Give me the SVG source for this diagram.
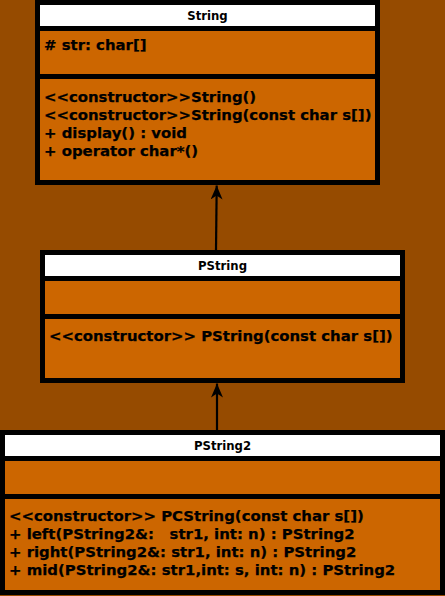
<svg xmlns="http://www.w3.org/2000/svg" width="445" height="596" viewBox="0 0 445 596">
<defs>
<style>
.frame{fill:#000}
.hdr{fill:#fff}
.body{fill:#cc6600}
.title{font-family:"DejaVu Sans",sans-serif;font-weight:bold;font-size:11.7px;fill:#000;text-anchor:middle}
.mem{font-family:"DejaVu Sans",sans-serif;font-weight:bold;font-size:14.9px;fill:#000;white-space:pre;stroke:#000;stroke-width:0.25}
.conn{stroke:#000;stroke-width:2.2;fill:none}
</style>
<marker id="arr" viewBox="0 0 14 12" refX="14" refY="6" markerWidth="14" markerHeight="12" orient="auto" markerUnits="userSpaceOnUse">
<path d="M0,0 L14,6 L0,12 L4,6 z" fill="#000"/>
</marker>
</defs>
<rect x="0" y="0" width="445" height="596" fill="#964b00"/>
<g id="String">
<rect class="frame" x="35" y="0" width="345" height="185"/>
<rect class="hdr" x="40" y="5" width="335" height="21"/>
<rect class="body" x="40" y="31" width="335" height="43"/>
<rect class="body" x="40" y="79" width="335" height="101"/>
<text class="title" x="207.5" y="20">String</text>
<text class="mem" x="44" y="49.5"># str: char[]</text>
<text class="mem" x="44" y="101.5">&lt;&lt;constructor&gt;&gt;String()</text>
<text class="mem" x="44" y="119.5">&lt;&lt;constructor&gt;&gt;String(const char s[])</text>
<text class="mem" x="44" y="137.5">+ display() : void</text>
<text class="mem" x="44" y="155.5">+ operator char*()</text>
</g>
<g id="PString">
<rect class="frame" x="40" y="250" width="365" height="133"/>
<rect class="hdr" x="45" y="255" width="355" height="21"/>
<rect class="body" x="45" y="281" width="355" height="33"/>
<rect class="body" x="45" y="319" width="355" height="59"/>
<text class="title" x="222.5" y="270">PString</text>
<text class="mem" x="49" y="340.5">&lt;&lt;constructor&gt;&gt; PString(const char s[])</text>
</g>
<g id="PString2">
<rect class="frame" x="0" y="430" width="445" height="165"/>
<rect class="hdr" x="5" y="435" width="435" height="21"/>
<rect class="body" x="5" y="461" width="435" height="33"/>
<rect class="body" x="5" y="499" width="435" height="91"/>
<text class="title" x="222.5" y="450">PString2</text>
<text class="mem" x="9" y="521">&lt;&lt;constructor&gt;&gt; PCString(const char s[])</text>
<text class="mem" x="9" y="539">+ left(PString2&amp;:   str1, int: n) : PString2</text>
<text class="mem" x="9" y="557">+ right(PString2&amp;: str1, int: n) : PString2</text>
<text class="mem" x="9" y="575">+ mid(PString2&amp;: str1,int: s, int: n) : PString2</text>
</g>
<g id="connectors">
<line class="conn" x1="216" y1="250" x2="216.7" y2="185.5" marker-end="url(#arr)"/>
<line class="conn" x1="217" y1="430" x2="217" y2="383.5" marker-end="url(#arr)"/>
</g>
</svg>
